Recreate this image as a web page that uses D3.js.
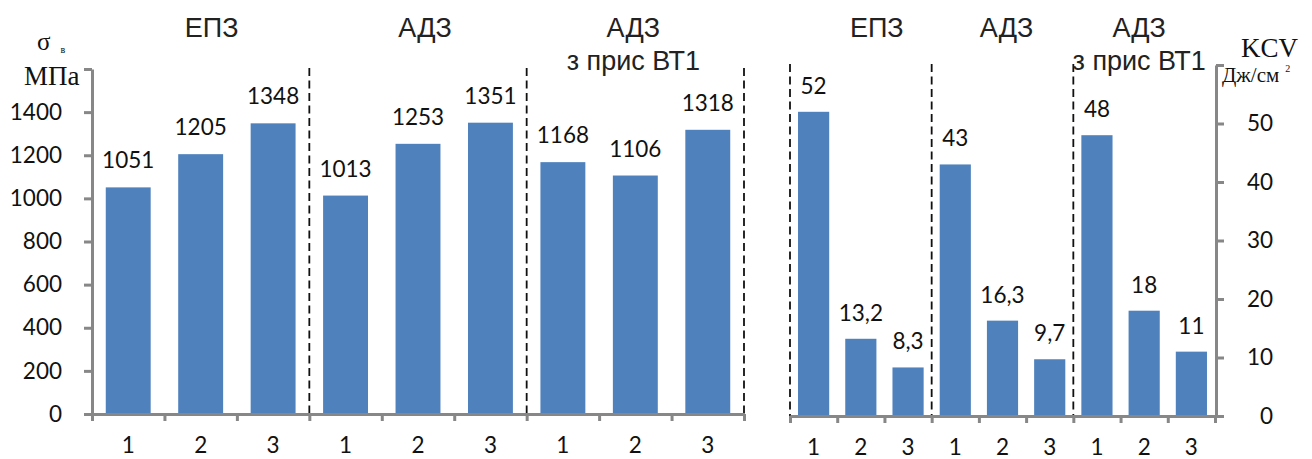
<!DOCTYPE html>
<html>
<head>
<meta charset="utf-8">
<script src="https://cdn.jsdelivr.net/npm/d3@7"></script>
<style>
  html, body { margin: 0; padding: 0; background: #fff; }
  svg { display: block; }
</style>
</head>
<body>
<svg id="chart" width="1312" height="459"></svg>
<script>
// Specimen numbers within each treatment group
const specimens = ["1", "2", "3", "1", "2", "3", "1", "2", "3"];
// Group titles (first line / second line)
const groupTitles = ["ЕПЗ", "АДЗ", "АДЗ"];
const groupSubtitles = ["", "", "з прис ВТ1"];
// Ultimate tensile strength σв, MPa
const strength = [1051, 1205, 1348, 1013, 1253, 1351, 1168, 1106, 1318];
// Impact toughness KCV, J/cm²
const toughness = [52, 13.2, 8.3, 43, 16.3, 9.7, 48, 18, 11];
// Axis tick values
const strengthTicks = [0, 200, 400, 600, 800, 1000, 1200, 1400, 1600];
const toughnessTicks = [0, 10, 20, 30, 40, 50, 60];

const svg = d3.select("#chart");
const BAR = "#4f81bd";
const AXIS = "#878787";
const TXT = "#111";
const NUM_SIZE = 22.5;
const numFont = "Lato, 'Open Sans', sans-serif";
const titleFont = "'Liberation Sans', Arial, sans-serif";
const serif = "'Liberation Serif', 'Times New Roman', serif";
const fmt = v => String(v).replace(".", ",");
const idx = d3.range(specimens.length);

function panel(opts) {
  const { values, ticks, x0, x1, y0, y1, side, barPad, labelGap, titleDx } = opts;
  const g = svg.append("g");
  const x = d3.scaleBand().domain(idx).range([x0, x1])
    .paddingInner(barPad).paddingOuter(barPad / 2);
  const xb = d3.scaleLinear().domain([0, idx.length]).range([x0, x1]);
  const y = d3.scaleLinear().domain([ticks[0], ticks[ticks.length - 1]]).range([y0, y1]);
  const top = ticks[ticks.length - 1];

  // group separators
  const seps = side === "left" ? [3, 6, 9] : [0, 3, 6];
  g.selectAll("line.sep").data(seps).join("line")
    .attr("class", "sep")
    .attr("x1", d => xb(d)).attr("x2", d => xb(d))
    .attr("y1", y(top) - 1).attr("y2", y0)
    .attr("stroke", "#111").attr("stroke-width", 1.8)
    .attr("stroke-dasharray", "8,4.5");

  // bars
  g.selectAll("rect.bar").data(values).join("rect")
    .attr("class", "bar")
    .attr("x", (d, i) => x(i)).attr("width", x.bandwidth())
    .attr("y", d => y(d)).attr("height", d => y0 - y(d))
    .attr("fill", BAR);

  // value labels
  g.selectAll("text.val").data(values).join("text")
    .attr("class", "val")
    .attr("x", (d, i) => x(i) + x.bandwidth() / 2)
    .attr("y", d => y(d) - labelGap)
    .attr("text-anchor", "middle")
    .attr("font-family", numFont).attr("font-size", NUM_SIZE).attr("fill", TXT)
    .text(fmt);

  // value axis
  const yAxis = (side === "left" ? d3.axisLeft(y) : d3.axisRight(y))
    .tickValues(ticks).tickSize(8).tickSizeOuter(0)
    .tickPadding(side === "left" ? 22 : 8)
    .tickFormat(d => d === top ? "" : d);
  const ya = g.append("g")
    .attr("transform", `translate(${side === "left" ? x0 : x1 + 1},0)`)
    .call(yAxis);
  ya.select(".domain").attr("stroke", AXIS).attr("stroke-width", 3);
  ya.selectAll(".tick line").attr("stroke", AXIS).attr("stroke-width", 3);
  ya.selectAll(".tick text")
    .attr("font-family", numFont).attr("font-size", NUM_SIZE).attr("fill", TXT);
  if (side === "right") {
    ya.selectAll(".tick text").attr("text-anchor", "end").attr("x", 57);
  }

  // category axis: boundary ticks and specimen labels
  const xa = g.append("g").attr("transform", `translate(0,${y0})`)
    .call(d3.axisBottom(xb).tickValues(d3.range(idx.length + 1))
      .tickSize(7).tickSizeOuter(0).tickFormat(""));
  xa.select(".domain").attr("stroke", AXIS).attr("stroke-width", 3);
  xa.selectAll(".tick line").attr("stroke", AXIS).attr("stroke-width", 3);

  const xl = g.append("g").attr("transform", `translate(0,${y0})`)
    .call(d3.axisBottom(x).tickSize(0).tickPadding(23)
      .tickFormat(i => specimens[i]));
  xl.select(".domain").remove();
  xl.selectAll(".tick text")
    .attr("font-family", numFont).attr("font-size", NUM_SIZE).attr("fill", TXT);

  // group titles
  groupTitles.forEach((t, k) => {
    const cx = xb(k * 3 + 1.5) + titleDx[k];
    g.append("text").attr("x", cx).attr("y", 37)
      .attr("text-anchor", "middle").attr("font-family", titleFont)
      .attr("font-size", 27).attr("fill", "#222").text(t);
    if (groupSubtitles[k]) {
      g.append("text").attr("x", cx).attr("y", 70)
        .attr("text-anchor", "middle").attr("font-family", titleFont)
        .attr("font-size", 27).attr("fill", "#222").text(groupSubtitles[k]);
    }
  });
  return g;
}

panel({ values: strength, ticks: strengthTicks, x0: 92, x1: 744, y0: 414, y1: 69,
        side: "left", barPad: 0.38, labelGap: 19, titleDx: [11, 7, -2] });
panel({ values: toughness, ticks: toughnessTicks, x0: 790, x1: 1215, y0: 416, y1: 65,
        side: "right", barPad: 0.34, labelGap: 18, titleDx: [16, 4, -5] });

// axis units
const unitL = svg.append("text").attr("x", 37).attr("y", 50)
  .attr("font-family", serif).attr("fill", TXT);
unitL.append("tspan").attr("font-size", 25).text("σ");
unitL.append("tspan").attr("font-size", 10).attr("dx", 10).attr("dy", 3).text("в");
svg.append("text").attr("x", 24).attr("y", 85)
  .attr("font-family", serif).attr("font-size", 27).attr("fill", TXT).text("МПа");

svg.append("text").attr("x", 1241).attr("y", 57)
  .attr("font-family", serif).attr("font-size", 27).attr("fill", TXT).text("KCV");
const unitR = svg.append("text").attr("x", 1222).attr("y", 82)
  .attr("font-family", serif).attr("font-size", 21).attr("fill", TXT);
unitR.append("tspan").text("Дж/см");
unitR.append("tspan").attr("font-size", 10).attr("dx", 6).attr("dy", -10).text("2");
</script>
</body>
</html>
